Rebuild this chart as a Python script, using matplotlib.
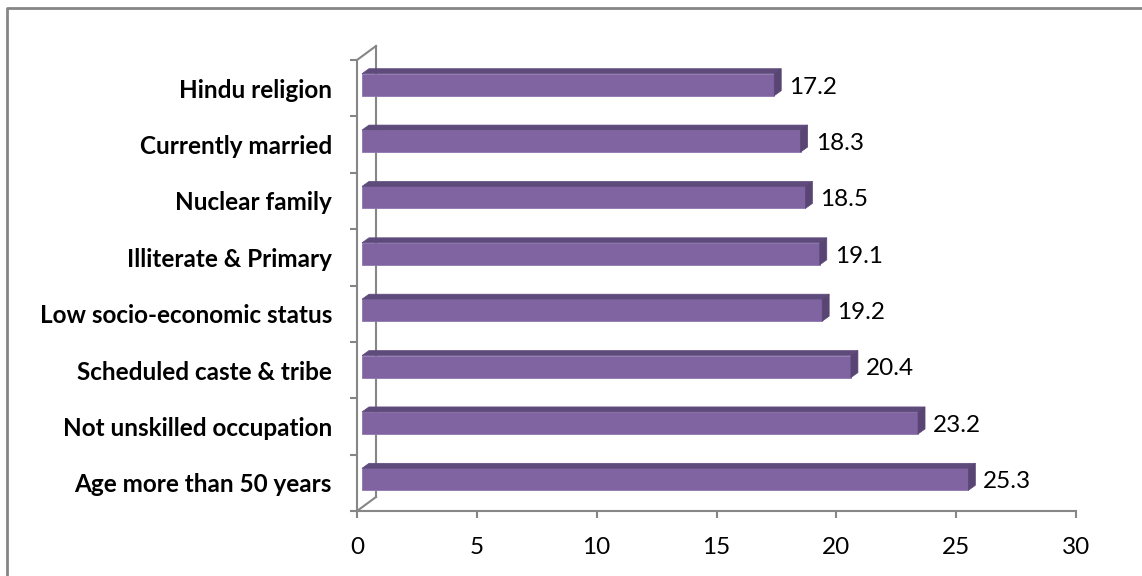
import matplotlib.pyplot as plt
from matplotlib.patches import Polygon
from matplotlib.lines import Line2D

# Data (bottom to top as drawn)
categories = ['Age more than 50 years', 'Not unskilled occupation', 'Scheduled caste & tribe',
              'Low socio-economic status', 'Illiterate & Primary', 'Nuclear family',
              'Currently married', 'Hindu religion']
values = [25.3, 23.2, 20.4, 19.2, 19.1, 18.5, 18.3, 17.2]
x_ticks = [0, 5, 10, 15, 20, 25, 30]

plt.rcParams['font.family'] = ['Lato', 'DejaVu Sans']

W, H = 1142, 576
fig = plt.figure(figsize=(W / 100, H / 100), dpi=100)
ax = fig.add_axes([357 / W, 1 - 511 / H, (1076 - 357) / W, (511 - 60) / H])

x_min, x_max = 0, 30
y_min, y_max = -0.5, len(categories) - 0.5
ax.set_xlim(x_min, x_max)
ax.set_ylim(y_min, y_max)

# pixel -> data unit helpers
px_x = (x_max - x_min) / (1076 - 357)
px_y = (y_max - y_min) / (511 - 60)

axis_col = '#868686'
front_col = '#8064A2'
top_col = '#5F4A7C'
side_col = '#594573'

# 3D depth of the floor / back wall
depth_x, depth_y = 19 * px_x, 14 * px_y
# bar placement inside the depth
off_x, off_y = 5 * px_x, 3.5 * px_y
bar_dx, bar_dy = 7 * px_x, 5 * px_y
bar_h = 22 * px_y

# back wall and floor edges
ax.add_line(Line2D([depth_x, depth_x], [y_min + depth_y, y_max + depth_y], color=axis_col, lw=1.5, clip_on=False, zorder=1))
ax.add_line(Line2D([0, depth_x], [y_max, y_max + depth_y], color=axis_col, lw=1.5, clip_on=False, zorder=1))
ax.add_line(Line2D([0, depth_x], [y_min, y_min + depth_y], color=axis_col, lw=1.5, clip_on=False, zorder=1))

for i, v in enumerate(values):
    x0 = off_x
    x1 = v + off_x
    yb = i + off_y - bar_h / 2
    yt = i + off_y + bar_h / 2
    front = Polygon([(x0, yb), (x1, yb), (x1, yt), (x0, yt)], closed=True,
                    facecolor=front_col, edgecolor='#8E76AE', lw=0.6, zorder=3)
    top = Polygon([(x0, yt), (x1, yt), (x1 + bar_dx, yt + bar_dy), (x0 + bar_dx, yt + bar_dy)],
                  closed=True, facecolor=top_col, edgecolor=top_col, lw=0.5, zorder=3)
    side = Polygon([(x1, yb), (x1 + bar_dx, yb + bar_dy), (x1 + bar_dx, yt + bar_dy), (x1, yt)],
                   closed=True, facecolor=side_col, edgecolor=side_col, lw=0.5, zorder=3)
    for p in (front, top, side):
        p.set_clip_on(False)
        ax.add_patch(p)
    ax.text(x1 + bar_dx + 8 * px_x, i + 0.02, f'{v}', fontsize=17.5, va='center', ha='left')

# axes
for s in ('top', 'right'):
    ax.spines[s].set_visible(False)
for s in ('left', 'bottom'):
    ax.spines[s].set_color(axis_col)
    ax.spines[s].set_linewidth(1.5)

ax.set_xticks(x_ticks)
ax.set_xticklabels([str(t) for t in x_ticks], fontsize=17.5)
ax.tick_params(axis='x', direction='out', length=5, width=1.5, color=axis_col, pad=14)

ax.set_yticks(range(len(categories)))
ax.set_yticklabels(categories, fontsize=17.5, fontweight='bold')
ax.tick_params(axis='y', which='major', length=0, pad=18)
ax.set_yticks([k - 0.5 for k in range(len(categories) + 1)], minor=True)
ax.tick_params(axis='y', which='minor', direction='out', length=5, width=1.5, color=axis_col)

# outer chart border
fig.add_artist(Line2D([7 / W, 7 / W, 1.01], [-0.01, 1 - 8 / H, 1 - 8 / H], color=axis_col, lw=2,
                      transform=fig.transFigure))

fig.savefig('out.png', dpi=100, facecolor='white')
